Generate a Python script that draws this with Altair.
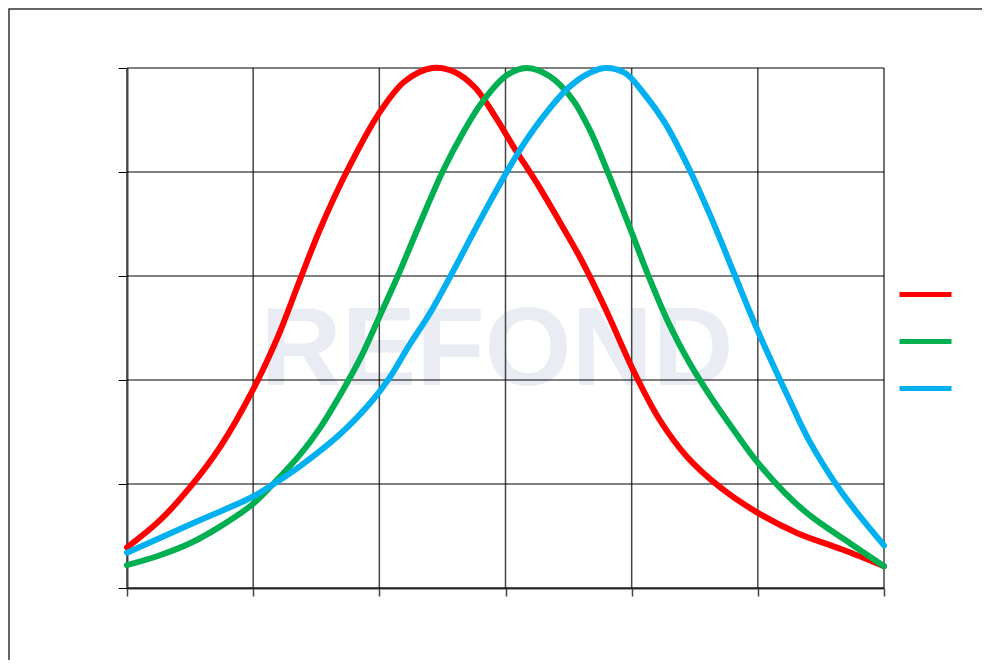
import altair as alt
import pandas as pd

# ---- data ----
series_names = ["Red", "Green", "Blue"]
series_colors = ["#FF0000", "#00B050", "#00B0F0"]

red_x = [0, 0.26, 0.50, 0.74, 1.0, 1.19, 1.37, 1.53, 1.74, 1.99, 2.20, 2.42, 2.60, 2.76, 2.92, 3.07, 3.25, 3.43, 3.59, 3.79, 4.01, 4.22, 4.44, 4.70, 4.99, 5.31, 5.67, 6.0]
red_y = [0.39, 0.65, 0.97, 1.36, 1.91, 2.40, 2.96, 3.45, 4.0, 4.55, 4.87, 5.0, 4.96, 4.81, 4.53, 4.23, 3.89, 3.52, 3.18, 2.69, 2.10, 1.62, 1.26, 0.97, 0.73, 0.53, 0.37, 0.21]

green_x = [0, 0.25, 0.50, 0.75, 1.0, 1.15, 1.37, 1.53, 1.71, 1.85, 1.99, 2.15, 2.32, 2.50, 2.66, 2.82, 3.01, 3.17, 3.35, 3.53, 3.67, 3.80, 3.99, 4.14, 4.30, 4.46, 4.62, 4.82, 4.99, 5.21, 5.41, 5.73, 6.0]
green_y = [0.22, 0.31, 0.43, 0.60, 0.81, 0.99, 1.28, 1.54, 1.90, 2.21, 2.58, 3.01, 3.50, 4.0, 4.37, 4.68, 4.93, 5.0, 4.92, 4.70, 4.40, 4.03, 3.45, 2.98, 2.53, 2.16, 1.85, 1.50, 1.22, 0.92, 0.70, 0.43, 0.21]

blue_x = [0, 0.50, 1.0, 1.15, 1.37, 1.69, 1.95, 2.08, 2.24, 2.40, 2.56, 2.80, 3.01, 3.15, 3.31, 3.49, 3.63, 3.79, 3.95, 4.10, 4.26, 4.44, 4.62, 4.80, 4.99, 5.25, 5.41, 5.67, 6.0]
blue_y = [0.34, 0.61, 0.88, 0.99, 1.17, 1.48, 1.81, 2.02, 2.34, 2.64, 2.99, 3.54, 4.0, 4.28, 4.55, 4.80, 4.93, 5.0, 4.95, 4.75, 4.48, 4.07, 3.59, 3.06, 2.50, 1.81, 1.41, 0.91, 0.41]

x_ticks = [0, 1, 2, 3, 4, 5, 6]
y_ticks = [0, 1, 2, 3, 4, 5]
watermark_text = ["REFOND"]

rows = []
for name, xs, ys in zip(series_names, [red_x, green_x, blue_x], [red_y, green_y, blue_y]):
    for i, (xv, yv) in enumerate(zip(xs, ys)):
        rows.append({"series": name, "x": xv, "y": yv, "i": i})
df = pd.DataFrame(rows)

xscale = alt.Scale(domain=[0, 6], nice=False, zero=False)
yscale = alt.Scale(domain=[0, 5], nice=False, zero=False)

x_axis = alt.Axis(values=x_ticks, labels=False, title=None, grid=False,
                  tickSize=8, tickColor="#444444", tickWidth=1.5,
                  domainColor="#444444", domainWidth=2)
y_axis = alt.Axis(values=y_ticks, labels=False, title=None, grid=False,
                  tickSize=9, tickColor="#000000", tickWidth=1,
                  domainColor="#444444", domainWidth=2)

frame = alt.Chart(pd.DataFrame({"a": [0]})).mark_rect(
    fillOpacity=0, stroke="#333333", strokeWidth=1.5
).encode(x=alt.value(-118), x2=alt.value(900), y=alt.value(-59), y2=alt.value(700))

watermark = alt.Chart(pd.DataFrame({"t": watermark_text})).mark_text(
    font="Liberation Sans", fontWeight="bold", fontSize=112, color="#EAECF3",
    align="center", baseline="alphabetic"
).encode(text="t:N", x=alt.value(370), y=alt.value(317))

vgrid = alt.Chart(pd.DataFrame({"v": x_ticks})).mark_rule(
    color="#444444", strokeWidth=1.5
).encode(x=alt.X("v:Q", scale=xscale, axis=x_axis))

hgrid = alt.Chart(pd.DataFrame({"h": y_ticks})).mark_rule(
    color="#000000", strokeWidth=1
).encode(y=alt.Y("h:Q", scale=yscale, axis=y_axis))

lines = alt.Chart(df).mark_line(
    strokeWidth=6, interpolate="catmull-rom", strokeCap="round", strokeJoin="round"
).encode(
    x=alt.X("x:Q", scale=xscale, axis=x_axis),
    y=alt.Y("y:Q", scale=yscale, axis=y_axis),
    color=alt.Color("series:N",
                    scale=alt.Scale(domain=series_names, range=series_colors),
                    legend=alt.Legend(orient="none", legendX=770, legendY=198,
                                      title=None, symbolType="stroke",
                                      symbolSize=2704, symbolStrokeWidth=5,
                                      labelExpr="''", labelFontSize=1,
                                      rowPadding=8, padding=0)),
    order=alt.Order("i:Q"),
)

chart = alt.layer(frame, watermark, vgrid, hgrid, lines).properties(
    width=757, height=520,
    autosize=alt.AutoSizeParams(type="none"),
    padding={"left": 119, "top": 60, "right": 98, "bottom": 72},
    background="white",
).configure_view(stroke=None)

chart.save("out.html", embed_options={"renderer": "svg", "actions": False})
